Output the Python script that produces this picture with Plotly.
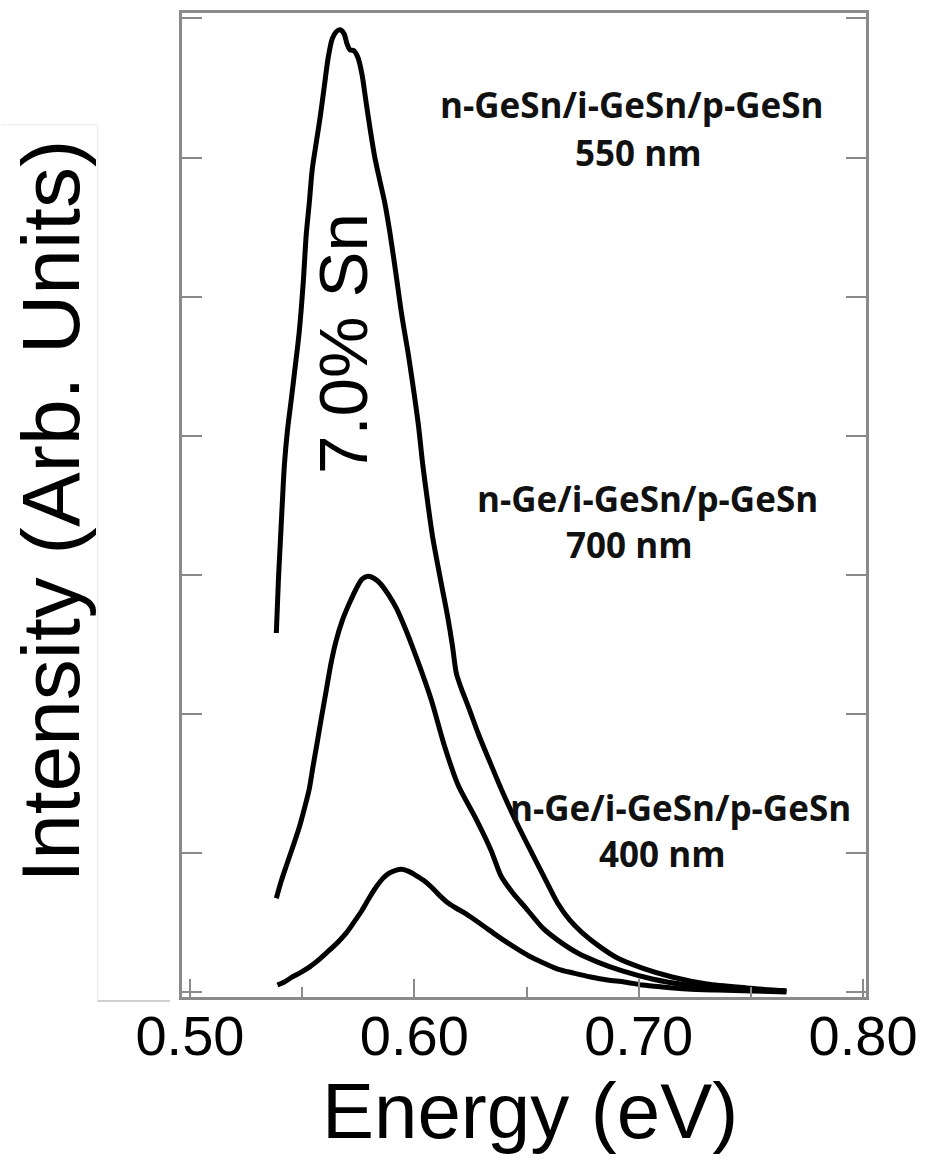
import plotly.graph_objects as go

# ---- data ----
energy_550 = [0.5385, 0.5394, 0.5403, 0.5412, 0.5421, 0.5434, 0.5452, 0.5470, 0.5487, 0.5505,
              0.5518, 0.5532, 0.5545, 0.5563, 0.5580, 0.5598, 0.5616, 0.5634, 0.5651, 0.5669,
              0.5687, 0.5700, 0.5713, 0.5731, 0.5749, 0.5767, 0.5784, 0.5802, 0.5824, 0.5846,
              0.5868, 0.5891, 0.5917, 0.5944, 0.5975, 0.6001, 0.6019, 0.6037, 0.6059, 0.6081,
              0.6103, 0.6125, 0.6148, 0.6170, 0.6187, 0.6210, 0.6241, 0.6285, 0.6338, 0.6396,
              0.6462, 0.6529, 0.6586, 0.6639, 0.6693, 0.6750, 0.6817, 0.6905, 0.7016, 0.7149,
              0.7304, 0.7481, 0.7658]
intensity_550 = [2.581, 2.953, 3.240, 3.527, 3.792, 4.029, 4.265, 4.509, 4.746, 5.104,
                 5.441, 5.677, 5.914, 6.108, 6.287, 6.502, 6.717, 6.853, 6.903, 6.918,
                 6.889, 6.817, 6.774, 6.767, 6.717, 6.595, 6.409, 6.215, 6.000, 5.835,
                 5.677, 5.462, 5.176, 4.867, 4.566, 4.280, 4.065, 3.799, 3.527, 3.276,
                 3.082, 2.896, 2.703, 2.487, 2.294, 2.179, 2.050, 1.857, 1.649, 1.427,
                 1.197, 0.982, 0.803, 0.638, 0.516, 0.423, 0.337, 0.244, 0.172, 0.108,
                 0.057, 0.029, 0.007]

energy_700 = [0.5385, 0.5408, 0.5430, 0.5456, 0.5487, 0.5510, 0.5532, 0.5549, 0.5567, 0.5585,
              0.5607, 0.5629, 0.5651, 0.5678, 0.5709, 0.5740, 0.5767, 0.5793, 0.5820, 0.5851,
              0.5886, 0.5922, 0.5957, 0.5992, 0.6028, 0.6077, 0.6134, 0.6196, 0.6272, 0.6342,
              0.6387, 0.6440, 0.6498, 0.6573, 0.6639, 0.6728, 0.6817, 0.6927, 0.7060, 0.7215,
              0.7393, 0.7658]
intensity_700 = [0.674, 0.803, 0.910, 1.032, 1.183, 1.319, 1.462, 1.627, 1.792, 1.964,
                 2.165, 2.366, 2.523, 2.667, 2.789, 2.896, 2.968, 2.989, 2.975, 2.932,
                 2.853, 2.753, 2.624, 2.480, 2.323, 2.093, 1.771, 1.484, 1.254, 1.018,
                 0.832, 0.710, 0.602, 0.459, 0.373, 0.280, 0.215, 0.151, 0.093, 0.050,
                 0.022, 0.007]

energy_400 = [0.5390, 0.5421, 0.5456, 0.5496, 0.5532, 0.5567, 0.5607, 0.5651, 0.5696, 0.5731,
              0.5767, 0.5798, 0.5829, 0.5860, 0.5886, 0.5917, 0.5944, 0.5975, 0.6006, 0.6041,
              0.6077, 0.6112, 0.6152, 0.6187, 0.6227, 0.6272, 0.6316, 0.6365, 0.6418, 0.6467,
              0.6520, 0.6577, 0.6639, 0.6710, 0.6786, 0.6861, 0.6936, 0.7016, 0.7105, 0.7215,
              0.7348, 0.7503, 0.7658]
intensity_400 = [0.050, 0.072, 0.108, 0.143, 0.179, 0.222, 0.280, 0.344, 0.423, 0.502,
                 0.588, 0.674, 0.753, 0.817, 0.853, 0.875, 0.882, 0.867, 0.839, 0.803,
                 0.753, 0.695, 0.638, 0.602, 0.566, 0.516, 0.466, 0.409, 0.351, 0.301,
                 0.251, 0.208, 0.165, 0.136, 0.108, 0.086, 0.072, 0.050, 0.036, 0.022,
                 0.014, 0.007, 0.000]

x_tick_vals = [0.50, 0.60, 0.70, 0.80]
x_tick_text = ["0.50", "0.60", "0.70", "0.80"]
x_minor_vals = [0.55, 0.65, 0.75]
y_tick_vals = [0, 1, 2, 3, 4, 5, 6, 7]

fig = go.Figure()
for ex, iy, nm in [(energy_550, intensity_550, "550 nm"),
                   (energy_700, intensity_700, "700 nm"),
                   (energy_400, intensity_400, "400 nm")]:
    fig.add_trace(go.Scatter(x=ex, y=iy, mode="lines", name=nm,
                             line=dict(color="black", width=5, shape="spline", smoothing=0.8),
                             showlegend=False, hoverinfo="x+y"))

axis_gray = "#8a8a8a"
fig.update_xaxes(range=[0.49646, 0.80129], tickvals=x_tick_vals, ticktext=x_tick_text,
                 ticks="inside", ticklen=18, tickwidth=2, tickcolor=axis_gray,
                 minor=dict(tickvals=x_minor_vals, ticks="inside", ticklen=10,
                            tickwidth=2, tickcolor=axis_gray),
                 showline=True, linecolor=axis_gray, linewidth=2.5, mirror=True,
                 showgrid=False, zeroline=False, ticklabelstandoff=-12,
                 tickfont=dict(family="Liberation Sans, Arial, sans-serif", size=56, color="black"))
fig.update_yaxes(range=[-0.036, 7.039], tickvals=y_tick_vals, showticklabels=False,
                 ticks="inside", ticklen=20, tickwidth=2, tickcolor=axis_gray,
                 showline=True, linecolor=axis_gray, linewidth=2.5, mirror="ticks",
                 showgrid=False, zeroline=False)

title_font = dict(family="Liberation Sans, Arial, sans-serif", size=78, color="black")
ytitle_font = dict(family="Liberation Sans, Arial, sans-serif", size=82, color="black")
label_font = dict(family="Open Sans, sans-serif", size=35, color="#111111")

annotations = [
    dict(text="Energy (eV)", xref="paper", yref="paper", x=0.5087, y=-0.1155,
         xanchor="center", yanchor="middle", showarrow=False, font=title_font),
    dict(text="Intensity (Arb. Units)", xref="paper", yref="paper", x=-0.192, y=0.494,
         xanchor="center", yanchor="middle", textangle=-90, showarrow=False, font=ytitle_font),
    dict(text="7.0% Sn", xref="x", yref="y", x=0.5687, y=4.66, textangle=-90,
         xanchor="center", yanchor="middle", showarrow=False,
         font=dict(family="Liberation Sans, Arial, sans-serif", size=69, color="black")),
    dict(text="<b>n-GeSn/i-GeSn/p-GeSn</b>", xref="x", yref="y", x=0.6967, y=6.38,
         showarrow=False, font=label_font),
    dict(text="<b>550 nm</b>", xref="x", yref="y", x=0.6998, y=6.036,
         showarrow=False, font=label_font),
    dict(text="<b>n-Ge/i-GeSn/p-GeSn</b>", xref="x", yref="y", x=0.7038, y=3.549,
         showarrow=False, font=label_font),
    dict(text="<b>700 nm</b>", xref="x", yref="y", x=0.6958, y=3.219,
         showarrow=False, font=label_font),
    dict(text="<b>n-Ge/i-GeSn/p-GeSn</b>", xref="x", yref="y", x=0.7184, y=1.326,
         showarrow=False, font=label_font),
    dict(text="<b>400 nm</b>", xref="x", yref="y", x=0.7105, y=0.996,
         showarrow=False, font=label_font),
]

# faint border of the pasted y-title box
shapes = [
    dict(type="line", xref="paper", yref="paper", x0=-0.1235, x1=-0.1235, y0=0.8865, y1=-0.0041,
         line=dict(color="#efefef", width=1.5)),
    dict(type="line", xref="paper", yref="paper", x0=-0.1235, x1=-0.0174, y0=-0.0041, y1=-0.0041,
         line=dict(color="#cfcfcf", width=2)),
    dict(type="line", xref="paper", yref="paper", x0=-0.2645, x1=-0.1235, y0=0.8865, y1=0.8865,
         line=dict(color="#f2f2f2", width=1.5)),
]

fig.update_layout(width=928, height=1160, margin=dict(l=182, r=58, t=10, b=163),
                  paper_bgcolor="white", plot_bgcolor="white",
                  annotations=annotations, shapes=shapes, showlegend=False)

fig.write_html("out.html")
